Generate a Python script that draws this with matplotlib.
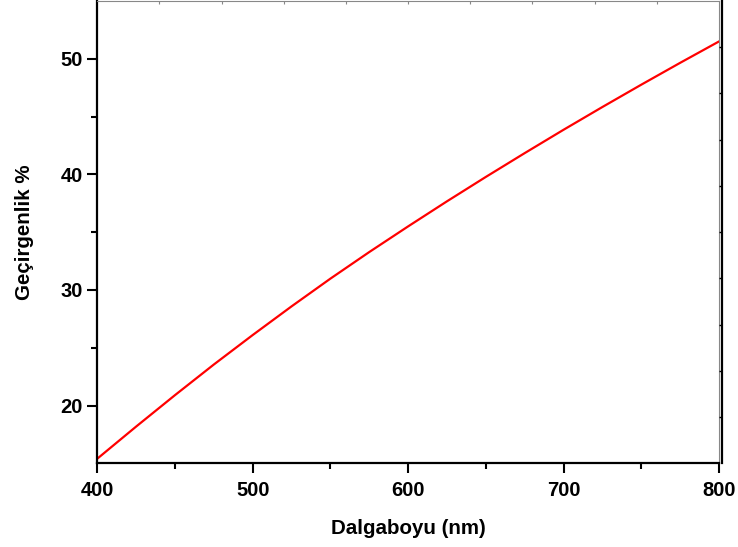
import matplotlib
matplotlib.use("Agg")
import matplotlib.pyplot as plt
import numpy as np

plt.rcParams['font.family'] = ['Liberation Sans', 'DejaVu Sans']
plt.rcParams['font.weight'] = 'bold'

wavelength = [400, 425, 450, 475, 500, 525, 550, 575, 600, 625, 650, 675, 700, 725, 750, 775, 800]
transmittance = [15.40, 18.18, 20.90, 23.55, 26.10, 28.58, 30.98, 33.28, 35.50,
                 37.67, 39.78, 41.84, 43.86, 45.83, 47.76, 49.65, 51.50]

x_major = [400, 500, 600, 700, 800]
y_major = [20, 30, 40, 50]

fig = plt.figure(figsize=(7.38, 5.47), dpi=100)
ax = fig.add_axes([97.3/738, 83.7/547, 621.7/738, 462.3/547])

ax.plot(wavelength, transmittance, color='#ff0000', lw=1.6)
ax.set_xlim(400, 800)
ax.set_ylim(15, 55)
ax.set_xticks(x_major)
ax.set_xticks([450, 550, 650, 750], minor=True)
ax.set_yticks(y_major)
ax.set_yticks([25, 35, 45], minor=True)

ax.tick_params(axis='both', which='major', direction='out', length=7, width=1.5,
               labelsize=14.5)
ax.tick_params(axis='x', which='major', pad=5.5)
ax.tick_params(axis='y', which='major', pad=3.5)
ax.tick_params(axis='both', which='minor', direction='out', length=4, width=1.5)
for lbl in ax.get_xticklabels() + ax.get_yticklabels():
    lbl.set_fontweight('bold')

for s in ['left', 'bottom']:
    ax.spines[s].set_linewidth(1.6)
    ax.spines[s].set_color('black')
ax.spines['top'].set_linewidth(0.8)
ax.spines['top'].set_color('#888888')
ax.spines['right'].set_linewidth(0.8)
ax.spines['right'].set_color('#888888')

# right axis: thick black spine with small inward ticks
ax2 = ax.twinx()
ax2.set_ylim(15, 55)
ax2.set_yticks([19, 23, 27, 31, 35, 39, 43, 47, 51])
ax2.tick_params(axis='y', direction='in', length=2.5, width=1, labelright=False)
ax2.spines['right'].set_position(('outward', 2))
ax2.spines['right'].set_linewidth(1.6)
ax2.spines['right'].set_color('black')
for s in ['left', 'bottom', 'top']:
    ax2.spines[s].set_visible(False)

# top axis: small inward ticks
ax3 = ax.twiny()
ax3.set_xlim(400, 800)
ax3.set_xticks([440, 480, 520, 560, 600, 640, 680, 720, 760])
ax3.tick_params(axis='x', direction='in', length=2.5, width=0.8, color='#888888', labeltop=False)
for s in ['left', 'bottom', 'right', 'top']:
    ax3.spines[s].set_visible(False)

ax.set_xlabel('Dalgaboyu (nm)', fontsize=14.8, fontweight='bold', labelpad=14)
ax.set_ylabel('Geçirgenlik %', fontsize=14.8, fontweight='bold', labelpad=19)

fig.savefig('out.png', dpi=100)
